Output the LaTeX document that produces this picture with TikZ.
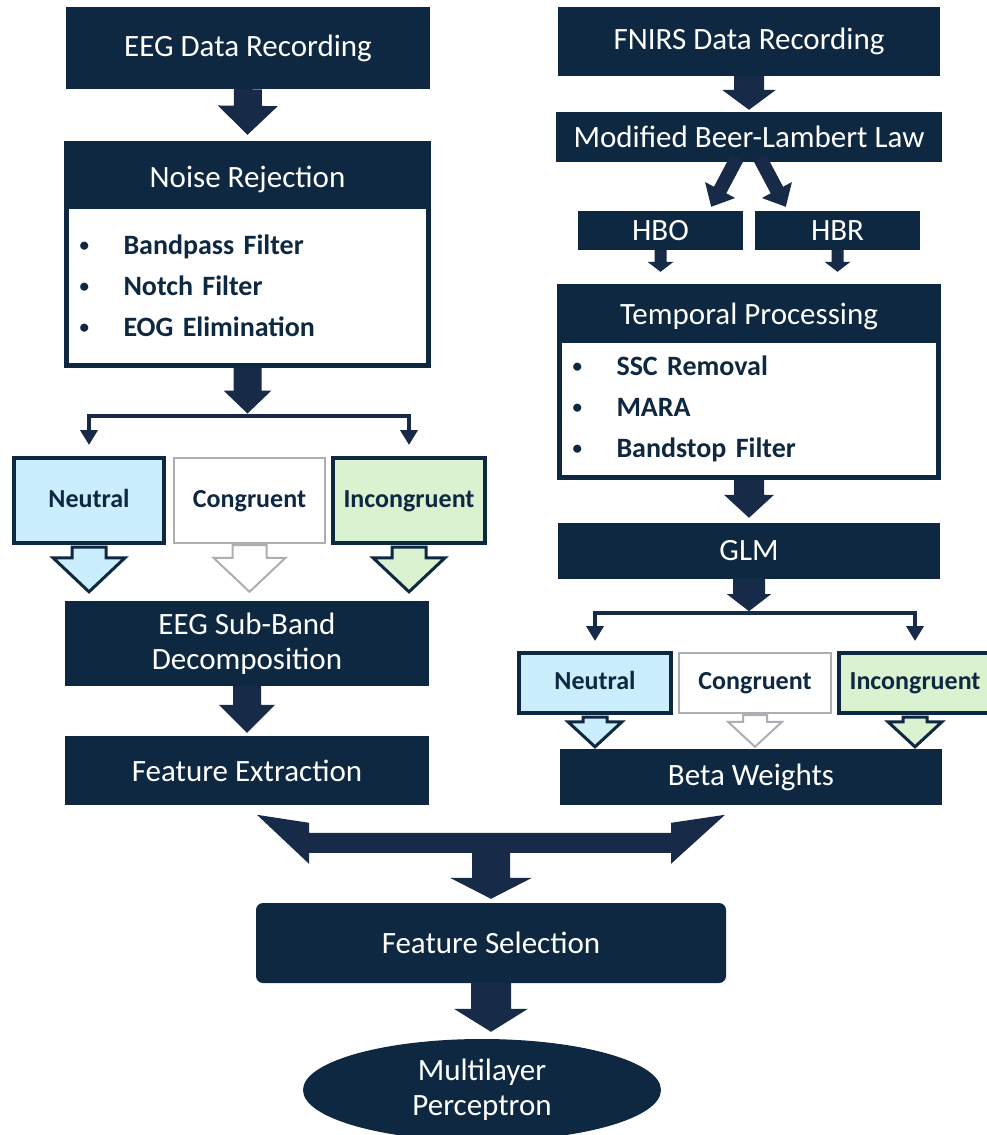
\documentclass[tikz,border=0pt]{standalone}
\usepackage{fontspec}
\setmainfont{Carlito}
\usetikzlibrary{arrows.meta,calc,shapes.geometric}

\definecolor{navy}{HTML}{0E2841}
\definecolor{arrnavy}{HTML}{172B49}
\definecolor{lblue}{HTML}{CAEEFB}
\definecolor{lgreen}{HTML}{DAF2D0}
\definecolor{lgray}{HTML}{ABAEB3}

% bullet with fixed gap
\newcommand\blt{\makebox[44pt][l]{\raisebox{3pt}{\fontsize{19}{19}\selectfont\textbullet}}}
% block arrow: [style]{from}{to}{shaft half}{head half}{head length}
\newcommand\blockarr[6][arr]{%
  \coordinate (hb) at ($(#3)!#6!(#2)$);
  \path[#1] ($(#2)!#4!90:(#3)$) -- ($(hb)!#4!90:(#3)$) -- ($(hb)!#5!90:(#3)$) -- (#3)
    -- ($(hb)!#5!-90:(#3)$) -- ($(hb)!#4!-90:(#3)$) -- ($(#2)!#4!-90:(#3)$) -- cycle;}

\begin{document}
\begin{tikzpicture}[
    x=1pt, y=-1pt,
    box/.style={fill=navy, text=white, font=\fontsize{31}{35}\selectfont, align=center, inner sep=0pt},
    list/.style={fill=white, draw=navy, line width=5pt, text=navy, font=\bfseries\fontsize{28}{41}\selectfont, align=left, inner xsep=13pt, inner ysep=0pt},
    cond/.style={draw=navy, line width=4pt, text=navy, font=\bfseries\fontsize{26}{30}\selectfont, inner sep=0pt, text height=19pt, text depth=6pt},
    arr/.style={fill=arrnavy},
    hollow/.style={draw=navy, line width=3pt, line join=miter},
    branch/.style={draw=arrnavy, line width=4pt, -{Triangle[length=15pt,width=17pt]}}
]
\fill[white] (0,0) rectangle (986,1135);
\useasboundingbox (0,0) rectangle (986,1135);

% EEG branch
\node[box, minimum width=364pt, minimum height=82pt] (eegrec) at (248,48) {EEG Data Recording};
\node[list, text width=336pt, minimum height=159pt] (nbody) at (247.5,286)
    {\blt Bandpass Filter\\ \blt Notch Filter\\ \blt EOG Elimination};
\node[box, minimum width=367pt, minimum height=68pt, text height=30pt] (ntitle) at (247.5,175) {Noise Rejection};
\node[cond, fill=lblue, minimum width=150pt, minimum height=85pt] (eneu) at (89,500.5) {Neutral};
\node[cond, draw=lgray, line width=2pt, fill=white, minimum width=151pt, minimum height=85pt] (ecng) at (249.5,500.5) {Congruent};
\node[cond, fill=lgreen, minimum width=152pt, minimum height=85pt] (einc) at (409,500.5) {Incongruent};
\node[box, minimum width=364pt, minimum height=85pt] (esub) at (247,643.5) {EEG Sub-Band\\Decomposition};
\node[box, minimum width=364pt, minimum height=69pt] (fext) at (247,770.5) {Feature Extraction};

% fNIRS branch
\node[box, minimum width=382pt, minimum height=69pt] (fnirs) at (749,41.5) {FNIRS Data Recording};
\node[box, minimum width=386pt, minimum height=50pt] (mbll) at (749,137) {Modified Beer-Lambert Law};
\node[box, minimum width=165pt, minimum height=39pt] (hbo) at (660.5,230.5) {HBO};
\node[box, minimum width=165pt, minimum height=39pt] (hbr) at (837.5,230.5) {HBR};
\node[list, text width=353pt, minimum height=137pt] (tbody) at (749,409)
    {\blt SSC Removal\\ \blt MARA\\ \blt Bandstop Filter};
\node[box, minimum width=384pt, minimum height=59pt, text height=28pt] (ttitle) at (749,313.5) {Temporal Processing};
\node[box, minimum width=382pt, minimum height=56pt] (glm) at (749,551) {GLM};
\node[cond, fill=lblue, minimum width=152pt, minimum height=60pt] (rneu) at (595,683) {Neutral};
\node[cond, draw=lgray, line width=2pt, fill=white, minimum width=152pt, minimum height=60pt] (rcng) at (755,683) {Congruent};
\node[cond, fill=lgreen, minimum width=152pt, minimum height=60pt] (rinc) at (915,683) {Incongruent};
\node[box, minimum width=382pt, minimum height=56pt] (beta) at (751,777) {Beta Weights};

% fusion
\node[box, rounded corners=7pt, minimum width=470pt, minimum height=80pt] (fsel) at (491,943) {Feature Selection};
\node[box, ellipse, minimum width=358pt, minimum height=102pt] (mlp) at (482,1090) {Multilayer\\Perceptron};

% EEG arrows
\coordinate (esplit) at ([yshift=-47.5pt]nbody.south);
\blockarr{eegrec.south}{[yshift=6pt]ntitle.north}{14pt}{30pt}{29pt}
\blockarr{nbody.south}{[yshift=2pt]esplit}{14pt}{24pt}{23pt}
\draw[branch] (esplit) -| ([yshift=11pt]eneu.north);
\draw[branch] (esplit) -| ([yshift=11pt]einc.north);
\foreach \c/\f in {eneu/lblue, einc/lgreen} {
  \coordinate (tip) at ($(esub.north -| \c.south)+(0,-9)$);
  \blockarr[hollow, fill=\f]{[yshift=-2pt]\c.south}{tip}{17pt}{36pt}{34pt}
}
\coordinate (tip) at ($(esub.north -| ecng.south)+(0,-9)$);
\blockarr[hollow, fill=white, draw=lgray, line width=2pt]{[yshift=-1pt]ecng.south}{tip}{17pt}{36pt}{34pt}
\blockarr{esub.south}{[yshift=3pt]fext.north}{14pt}{28pt}{28pt}

% fNIRS arrows
\blockarr{fnirs.south}{[yshift=2pt]mbll.north}{15pt}{27pt}{20pt}
\coordinate (dl) at ($(hbo.north east)+(-32,-4)$);
\coordinate (dr) at ($(hbr.north west)+(31,-4)$);
\blockarr{[xshift=-12pt,yshift=4pt]mbll.south}{dl}{7pt}{17pt}{19pt}
\blockarr{[xshift=11pt,yshift=4pt]mbll.south}{dr}{7pt}{17pt}{19pt}
\foreach \n in {hbo,hbr} {
  \coordinate (tip) at ($(ttitle.north -| \n.south)+(0,-12)$);
  \blockarr{\n.south}{tip}{6pt}{13pt}{10pt}
}
\blockarr{tbody.south}{[yshift=5pt]glm.north}{15pt}{25pt}{23pt}
\coordinate (rsplit) at ([yshift=-34pt]glm.south);
\blockarr{glm.south}{[yshift=2pt]rsplit}{16pt}{22pt}{17pt}
\draw[branch] (rsplit) -| ([yshift=10pt]rneu.north);
\draw[branch] (rsplit) -| ([yshift=10pt]rinc.north);
\foreach \c/\f in {rneu/lblue, rinc/lgreen} {
  \coordinate (tip) at ($(beta.north -| \c.south)+(0,-2)$);
  \blockarr[hollow, fill=\f]{[yshift=-2pt]\c.south}{tip}{12pt}{27pt}{25pt}
}
\coordinate (tip) at ($(beta.north -| rcng.south)+(0,-2)$);
\blockarr[hollow, fill=white, draw=lgray, line width=2pt]{[yshift=-1pt]rcng.south}{tip}{12pt}{27pt}{25pt}

% merge into feature selection
\fill[arr, shift={(fsel.north)}] (-234,-88) -- (-182,-80) -- (-182,-70) -- (180,-70) -- (180,-80)
    -- (234,-88) -- (180,-39) -- (180,-50) -- (19,-50) -- (19,-25) -- (41,-25) -- (0,-4)
    -- (-41,-25) -- (-19,-25) -- (-19,-50) -- (-182,-50) -- (-182,-39) -- cycle;
\coordinate (tip) at ($(fsel.south |- mlp.north)+(0,-7)$);
\blockarr{fsel.south}{tip}{20pt}{37pt}{23pt}
\end{tikzpicture}
\end{document}
